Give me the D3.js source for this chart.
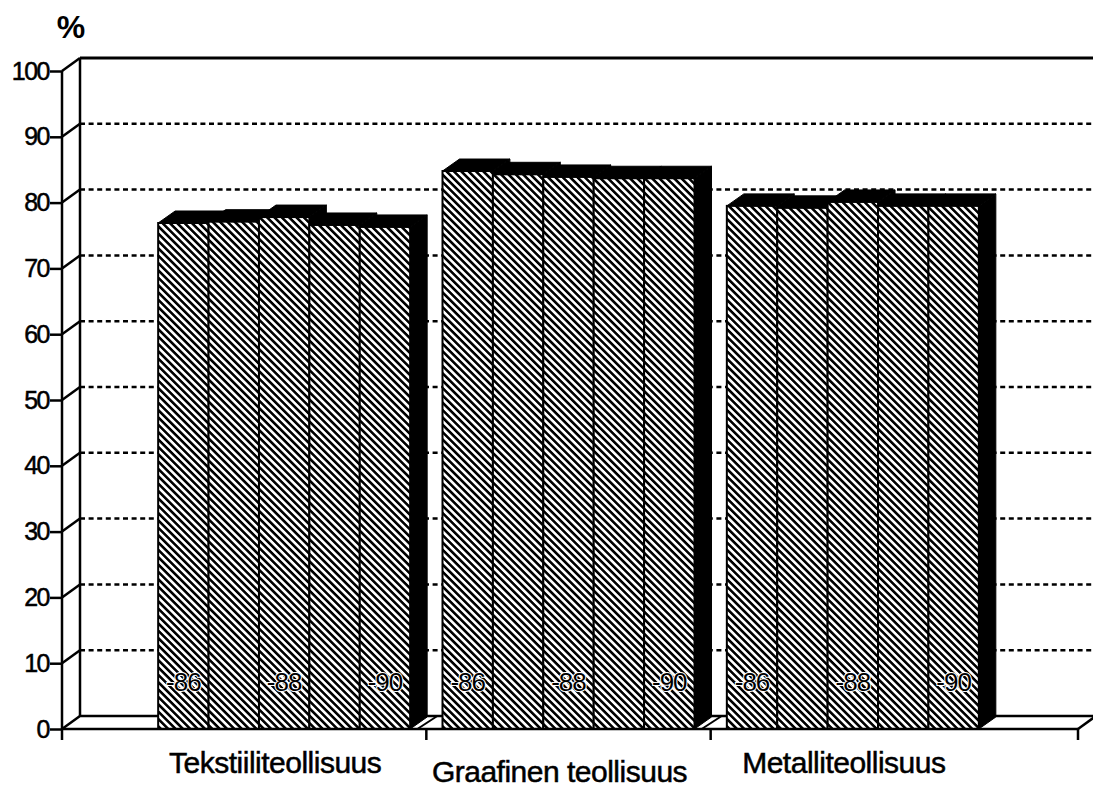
<!DOCTYPE html>
<html>
<head>
<meta charset="utf-8">
<script src="https://cdn.jsdelivr.net/npm/d3@7"></script>
<style>
  body { margin: 0; background: #fff; }
  text { font-family: "Liberation Sans", Arial, Helvetica, sans-serif; fill: #000; }
</style>
</head>
<body>
<div class="canvas"></div>
<script>
const categories = ["Tekstiiliteollisuus", "Graafinen teollisuus", "Metalliteollisuus"]
const years = ["-86", "-87", "-88", "-89", "-90"]
const yearLabels = ["-86", "-88", "-90"]

const tekstiili = [76.9, 77.1, 77.8, 76.6, 76.3]
const graafinen = [84.8, 84.3, 83.9, 83.7, 83.7]
const metalli = [79.5, 79.2, 80.1, 79.5, 79.5]
const series = [tekstiili, graafinen, metalli]

const yTicks = [0, 10, 20, 30, 40, 50, 60, 70, 80, 90, 100]

const width = 1093
const height = 788
const wall = { dx: 18, dy: -13 }
const bar = { dx: 17, dy: -12 }
const axisX = 62
const floorEnd = 1078
const groupWidth = 252

const svg = d3.select(".canvas").append("svg")
    .attr("width", width)
    .attr("height", height)

svg.append("rect").attr("width", width).attr("height", height).attr("fill", "#fff")

const pattern = svg.append("defs").append("pattern")
    .attr("id", "hatch")
    .attr("patternUnits", "userSpaceOnUse")
    .attr("width", 5.2)
    .attr("height", 5.2)
    .attr("patternTransform", "rotate(-45)")
pattern.append("rect").attr("width", 5.2).attr("height", 5.2).attr("fill", "#fff")
pattern.append("rect").attr("width", 2.6).attr("height", 5.2).attr("fill", "#000")

const y = d3.scaleLinear().domain([0, 100]).range([729, 71])
const x0 = d3.scaleBand().domain(categories).range([142, 995])
const x1 = d3.scaleBand().domain(years).range([0, groupWidth])

const groupLeft = (c) => x0(c) + (x0.bandwidth() - groupWidth) / 2

// back wall
svg.selectAll(".grid")
    .data(yTicks.filter(d => d > 0 && d < 100))
    .enter().append("line")
    .attr("x1", axisX + wall.dx)
    .attr("x2", width)
    .attr("y1", d => y(d) + wall.dy)
    .attr("y2", d => y(d) + wall.dy)
    .attr("stroke", "#000")
    .attr("stroke-width", 2.5)
    .attr("stroke-dasharray", "5,3.6")

svg.append("line")
    .attr("x1", axisX + wall.dx).attr("x2", width)
    .attr("y1", y(100) + wall.dy).attr("y2", y(100) + wall.dy)
    .attr("stroke", "#000").attr("stroke-width", 3)

svg.append("line")
    .attr("x1", axisX + wall.dx).attr("x2", axisX + wall.dx)
    .attr("y1", y(100) + wall.dy).attr("y2", y(0) + wall.dy)
    .attr("stroke", "#000").attr("stroke-width", 2.5)

// left wall slants
svg.selectAll(".slant")
    .data(yTicks.filter(d => d > 0))
    .enter().append("line")
    .attr("x1", axisX).attr("x2", axisX + wall.dx)
    .attr("y1", d => y(d)).attr("y2", d => y(d) + wall.dy)
    .attr("stroke", "#000").attr("stroke-width", 2.5)

// floor
const floor = [[axisX, y(0)], [axisX + wall.dx, y(0) + wall.dy], [width, y(0) + wall.dy]]
svg.append("path")
    .attr("d", d3.line()(floor))
    .attr("fill", "none").attr("stroke", "#000").attr("stroke-width", 2.5)

svg.append("line")
    .attr("x1", floorEnd).attr("x2", floorEnd + wall.dx)
    .attr("y1", y(0)).attr("y2", y(0) + wall.dy)
    .attr("stroke", "#000").attr("stroke-width", 2.5)

const boundaries = categories.slice(1).map(c => x0(c))
svg.selectAll(".fslant")
    .data(boundaries)
    .enter().append("line")
    .attr("x1", d => d - 9).attr("x2", d => d + 11)
    .attr("y1", y(0)).attr("y2", y(0) + wall.dy)
    .attr("stroke", "#000").attr("stroke-width", 2)

// bars
categories.forEach((c, gi) => {
    const g = svg.append("g").attr("transform", `translate(${groupLeft(c)},0)`)
    const rows = series[gi].map((v, i) => ({ year: years[i], value: v }))

    const b = g.selectAll(".bar")
        .data(rows)
        .enter().append("g")

    b.append("path")
        .attr("d", d => {
            const xa = x1(d.year) + x1.bandwidth()
            return d3.line()([[xa, y(d.value)], [xa + bar.dx, y(d.value) + bar.dy],
                [xa + bar.dx, y(0) + bar.dy], [xa, y(0)]]) + "Z"
        })
        .attr("fill", "#000").attr("stroke", "#000").attr("stroke-width", 1)

    b.append("path")
        .attr("d", d => {
            const xa = x1(d.year)
            const xb = xa + x1.bandwidth()
            return d3.line()([[xa, y(d.value)], [xa + bar.dx, y(d.value) + bar.dy],
                [xb + bar.dx, y(d.value) + bar.dy], [xb, y(d.value)]]) + "Z"
        })
        .attr("fill", "#000").attr("stroke", "#000").attr("stroke-width", 1)

    b.append("rect")
        .attr("x", d => x1(d.year))
        .attr("y", d => y(d.value))
        .attr("width", x1.bandwidth())
        .attr("height", d => y(0) - y(d.value))
        .attr("fill", "url(#hatch)")
        .attr("stroke", "#000")
        .attr("stroke-width", 2)

    g.selectAll(".yl")
        .data(yearLabels)
        .enter().append("text")
        .attr("x", d => x1(d) + x1.bandwidth() / 2)
        .attr("y", 691)
        .attr("text-anchor", "middle")
        .attr("font-size", 26)
        .attr("letter-spacing", -1)
        .attr("stroke", "#fff")
        .attr("stroke-width", 2)
        .attr("paint-order", "stroke")
        .text(d => d)
})

// front floor line and axis
svg.append("line")
    .attr("x1", axisX).attr("x2", floorEnd)
    .attr("y1", y(0)).attr("y2", y(0))
    .attr("stroke", "#000").attr("stroke-width", 2.5)

svg.append("line")
    .attr("x1", axisX).attr("x2", axisX)
    .attr("y1", y(100)).attr("y2", y(0) + 11)
    .attr("stroke", "#000").attr("stroke-width", 2.5)

svg.selectAll(".xtick")
    .data(boundaries.concat([floorEnd]))
    .enter().append("line")
    .attr("x1", d => d).attr("x2", d => d)
    .attr("y1", y(0)).attr("y2", y(0) + 11)
    .attr("stroke", "#000").attr("stroke-width", 2.5)

const yAxis = svg.append("g")
    .attr("transform", `translate(${axisX},0)`)
    .call(d3.axisLeft(y).tickValues(yTicks).tickSize(12).tickSizeOuter(0).tickPadding(1))

yAxis.select(".domain").remove()
yAxis.selectAll(".tick line").attr("stroke", "#000").attr("stroke-width", 2.5)
yAxis.selectAll(".tick text")
    .attr("font-size", 25)
    .attr("font-family", "Liberation Sans, Arial, sans-serif")
    .attr("letter-spacing", -1.5)
    .attr("fill", "#000")
    .attr("stroke", "#000")
    .attr("stroke-width", 0.5)

svg.append("text")
    .attr("x", 71)
    .attr("y", 38)
    .attr("text-anchor", "middle")
    .attr("font-size", 32)
    .attr("font-weight", "bold")
    .text("%")

svg.selectAll(".cat")
    .data(categories)
    .enter().append("text")
    .attr("x", d => x0(d) + x0.bandwidth() / 2 - 9)
    .attr("y", (d, i) => i % 2 ? 782 : 773)
    .attr("text-anchor", "middle")
    .attr("font-size", 30)
    .attr("letter-spacing", -0.5)
    .attr("stroke", "#000")
    .attr("stroke-width", 0.5)
    .text(d => d)
</script>
</body>
</html>
